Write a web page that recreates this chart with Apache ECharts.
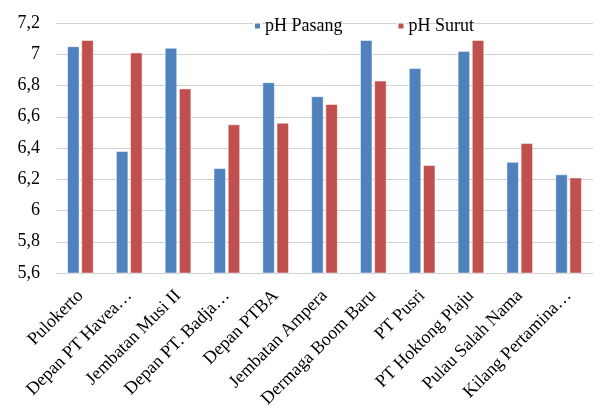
<!DOCTYPE html>
<html>
<head>
<meta charset="utf-8">
<script src="https://cdn.jsdelivr.net/npm/echarts@6/dist/echarts.min.js"></script>
<style>
  html, body { margin: 0; padding: 0; background: #fff; }
  #chart { width: 602px; height: 412px; }
</style>
</head>
<body>
<div id="chart"></div>
<script>
// lokasi sampling
const categories = ['Pulokerto', 'Depan PT Havea…', 'Jembatan Musi II', 'Depan PT. Badja…', 'Depan PTBA',
  'Jembatan Ampera', 'Dermaga Boom Baru', 'PT Pusri', 'PT Hoktong Plaju', 'Pulau Salah Nama', 'Kilang Pertamina…'];
const phPasang = [7.05, 6.38, 7.04, 6.27, 6.82, 6.73, 7.09, 6.91, 7.02, 6.31, 6.23];
const phSurut = [7.09, 7.01, 6.78, 6.55, 6.56, 6.68, 6.83, 6.29, 7.09, 6.43, 6.21];

const FONT = '"Liberation Serif", "Times New Roman", serif';

const chart = echarts.init(document.getElementById('chart'));
chart.setOption({
  animation: false,
  legend: {
    data: ['pH Pasang', 'pH Surut'],
    top: 12,
    left: 248,
    itemWidth: 7,
    itemHeight: 7,
    itemGap: 54,
    icon: 'rect',
    textStyle: { fontFamily: FONT, fontSize: 18, color: '#000', padding: [0, 0, 0, -1] }
  },
  grid: { left: 56, right: 9, top: 23, bottom: 139 },
  xAxis: {
    type: 'category',
    data: categories,
    axisLine: { lineStyle: { color: '#d0d0d0' } },
    axisTick: { show: false },
    axisLabel: {
      rotate: 45,
      interval: 0,
      color: '#000',
      fontFamily: FONT,
      fontSize: 18,
      margin: 20
    }
  },
  yAxis: {
    type: 'value',
    min: 5.6,
    max: 7.2,
    interval: 0.2,
    axisLine: { show: false },
    axisTick: { show: false },
    axisLabel: {
      color: '#000',
      fontFamily: FONT,
      fontSize: 18,
      margin: 16,
      formatter: v => String(Math.round(v * 10) / 10).replace('.', ',')
    },
    splitLine: { lineStyle: { color: '#d0d0d0', width: 1 } }
  },
  series: [
    {
      name: 'pH Pasang',
      type: 'bar',
      data: phPasang,
      barWidth: 12,
      barGap: '18%',
      itemStyle: { color: '#4F81BD', borderColor: '#fff', borderWidth: 0.5 }
    },
    {
      name: 'pH Surut',
      type: 'bar',
      data: phSurut,
      barWidth: 12,
      itemStyle: { color: '#C0504D', borderColor: '#fff', borderWidth: 0.5 }
    }
  ]
});
</script>
</body>
</html>
